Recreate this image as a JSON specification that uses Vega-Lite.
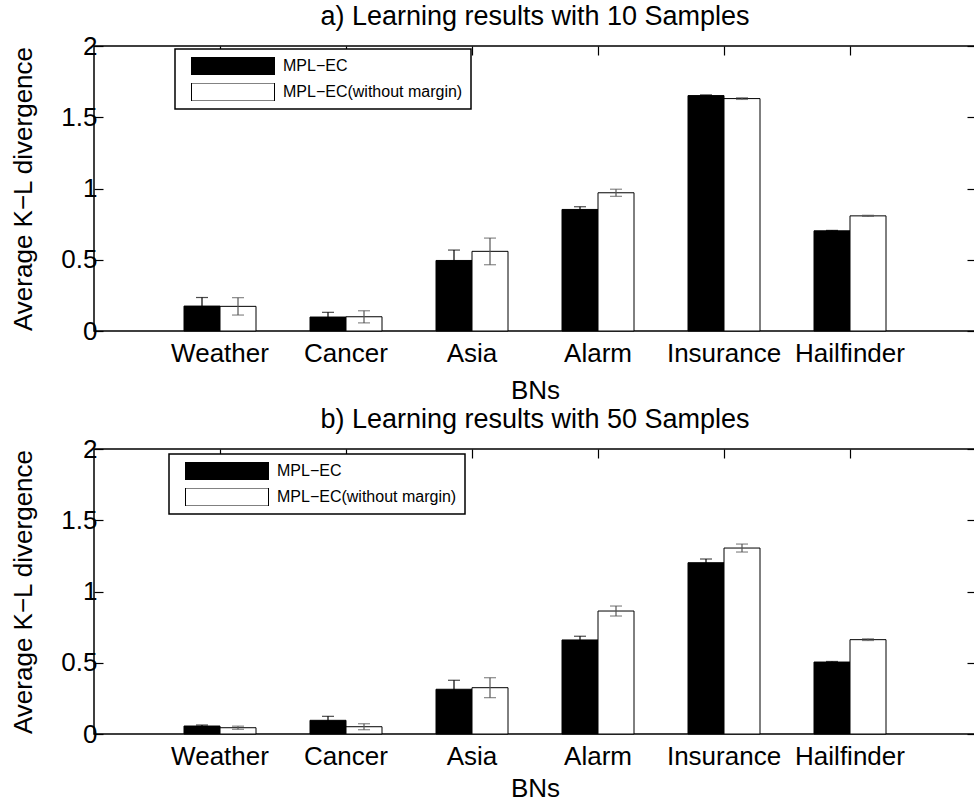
{
  "$schema": "https://vega.github.io/schema/vega-lite/v6.json",
  "padding": {"left": 10, "top": 2, "right": 0, "bottom": 0},
  "background": "white",
  "config": {
    "font": "Liberation Sans",
    "view": {"stroke": "black", "strokeWidth": 1.5},
    "axis": {"labelFont": "Liberation Sans", "titleFont": "Liberation Sans", "labelColor": "black", "titleColor": "black", "labelFontSize": 26, "titleFontSize": 26, "titleFontWeight": "normal", "grid": false, "domain": false, "tickColor": "black", "tickWidth": 1.2},
    "title": {"font": "Liberation Sans", "fontSize": 27, "fontWeight": "normal", "color": "black", "offset": 2},
    "legend": {"strokeWidth": 1.5}
  },
  "datasets": {
    "d": [
      {"panel": "a", "bn": "Weather", "method": "MPL−EC", "value": 0.175, "lo": 0.115, "hi": 0.235},
      {"panel": "a", "bn": "Weather", "method": "MPL−EC(without margin)", "value": 0.173, "lo": 0.112, "hi": 0.234},
      {"panel": "a", "bn": "Cancer", "method": "MPL−EC", "value": 0.098, "lo": 0.065, "hi": 0.131},
      {"panel": "a", "bn": "Cancer", "method": "MPL−EC(without margin)", "value": 0.1, "lo": 0.057, "hi": 0.142},
      {"panel": "a", "bn": "Asia", "method": "MPL−EC", "value": 0.495, "lo": 0.422, "hi": 0.568},
      {"panel": "a", "bn": "Asia", "method": "MPL−EC(without margin)", "value": 0.559, "lo": 0.465, "hi": 0.652},
      {"panel": "a", "bn": "Alarm", "method": "MPL−EC", "value": 0.853, "lo": 0.834, "hi": 0.872},
      {"panel": "a", "bn": "Alarm", "method": "MPL−EC(without margin)", "value": 0.97, "lo": 0.945, "hi": 0.995},
      {"panel": "a", "bn": "Insurance", "method": "MPL−EC", "value": 1.652, "lo": 1.647, "hi": 1.657},
      {"panel": "a", "bn": "Insurance", "method": "MPL−EC(without margin)", "value": 1.631, "lo": 1.625, "hi": 1.637},
      {"panel": "a", "bn": "Hailfinder", "method": "MPL−EC", "value": 0.703, "lo": 0.7, "hi": 0.706},
      {"panel": "a", "bn": "Hailfinder", "method": "MPL−EC(without margin)", "value": 0.808, "lo": 0.804, "hi": 0.812},
      {"panel": "b", "bn": "Weather", "method": "MPL−EC", "value": 0.056, "lo": 0.049, "hi": 0.063},
      {"panel": "b", "bn": "Weather", "method": "MPL−EC(without margin)", "value": 0.044, "lo": 0.033, "hi": 0.055},
      {"panel": "b", "bn": "Cancer", "method": "MPL−EC", "value": 0.096, "lo": 0.068, "hi": 0.124},
      {"panel": "b", "bn": "Cancer", "method": "MPL−EC(without margin)", "value": 0.051, "lo": 0.03, "hi": 0.072},
      {"panel": "b", "bn": "Asia", "method": "MPL−EC", "value": 0.314, "lo": 0.251, "hi": 0.377},
      {"panel": "b", "bn": "Asia", "method": "MPL−EC(without margin)", "value": 0.325, "lo": 0.255, "hi": 0.395},
      {"panel": "b", "bn": "Alarm", "method": "MPL−EC", "value": 0.66, "lo": 0.634, "hi": 0.686},
      {"panel": "b", "bn": "Alarm", "method": "MPL−EC(without margin)", "value": 0.863, "lo": 0.828, "hi": 0.898},
      {"panel": "b", "bn": "Insurance", "method": "MPL−EC", "value": 1.202, "lo": 1.176, "hi": 1.228},
      {"panel": "b", "bn": "Insurance", "method": "MPL−EC(without margin)", "value": 1.305, "lo": 1.277, "hi": 1.333},
      {"panel": "b", "bn": "Hailfinder", "method": "MPL−EC", "value": 0.505, "lo": 0.501, "hi": 0.509},
      {"panel": "b", "bn": "Hailfinder", "method": "MPL−EC(without margin)", "value": 0.662, "lo": 0.656, "hi": 0.668}
    ]
  },
  "spacing": 1,
  "resolve": {"scale": {"fill": "independent", "color": "independent"}, "legend": {"fill": "independent"}},
  "vconcat": [
    {
      "title": "a) Learning results with 10 Samples",
      "width": 882, "height": 285,
      "data": {"name": "d"},
      "transform": [{"filter": "datum.panel == 'a'"}],
      "resolve": {"axis": {"x": "independent", "y": "independent"}},
      "layer": [
        {
          "mark": {"type": "bar", "stroke": "black", "strokeWidth": 1},
          "encoding": {
            "x": {"field": "bn", "type": "nominal", "sort": ["Weather", "Cancer", "Asia", "Alarm", "Insurance", "Hailfinder"], "scale": {"paddingInner": 0, "paddingOuter": 0.5}, "axis": {"title": "BNs", "labelAngle": 0, "ticks": false, "labelPadding": 9, "titlePadding": 11}},
            "xOffset": {"field": "method", "type": "nominal", "sort": ["MPL−EC", "MPL−EC(without margin)"], "scale": {"paddingInner": 0, "paddingOuter": 0.75}},
            "y": {"field": "value", "type": "quantitative", "scale": {"domain": [0, 2], "nice": false}, "axis": {"title": "Average K−L divergence", "values": [0, 0.5, 1, 1.5, 2], "format": "~g", "tickSize": -9, "labelPadding": 6, "titlePadding": 24}},
            "fill": {"field": "method", "type": "nominal", "sort": ["MPL−EC", "MPL−EC(without margin)"], "scale": {"range": ["black", "white"]}, "legend": {"orient": "none", "legendX": 81, "legendY": 3, "title": null, "symbolType": "M-1,-0.217H1V0.217H-1Z", "symbolSize": 6889, "clipHeight": 18, "symbolStrokeColor": "black", "symbolStrokeWidth": 1, "symbolOffset": 8, "labelOffset": 8, "labelFontSize": 16, "labelLimit": 400, "labelColor": "black", "padding": 8, "rowPadding": 8, "strokeColor": "black", "fillColor": "white"}}
          }
        },
        {
          "mark": {"type": "rule", "strokeWidth": 1.2},
          "encoding": {
            "x": {"field": "bn", "type": "nominal", "sort": ["Weather", "Cancer", "Asia", "Alarm", "Insurance", "Hailfinder"], "axis": null},
            "xOffset": {"field": "method", "type": "nominal", "sort": ["MPL−EC", "MPL−EC(without margin)"]},
            "y": {"field": "lo", "type": "quantitative", "axis": null},
            "y2": {"field": "hi"},
            "color": {"field": "method", "type": "nominal", "sort": ["MPL−EC", "MPL−EC(without margin)"], "scale": {"range": ["black", "#555555"]}, "legend": null}
          }
        },
        {
          "mark": {"type": "tick", "size": 12, "thickness": 1.2},
          "encoding": {
            "x": {"field": "bn", "type": "nominal", "sort": ["Weather", "Cancer", "Asia", "Alarm", "Insurance", "Hailfinder"], "axis": null},
            "xOffset": {"field": "method", "type": "nominal", "sort": ["MPL−EC", "MPL−EC(without margin)"]},
            "y": {"field": "lo", "type": "quantitative", "axis": null},
            "color": {"field": "method", "type": "nominal", "sort": ["MPL−EC", "MPL−EC(without margin)"], "scale": {"range": ["black", "#555555"]}, "legend": null}
          }
        },
        {
          "mark": {"type": "tick", "size": 12, "thickness": 1.2},
          "encoding": {
            "x": {"field": "bn", "type": "nominal", "sort": ["Weather", "Cancer", "Asia", "Alarm", "Insurance", "Hailfinder"], "axis": {"orient": "top", "labels": false, "title": null, "tickSize": -9}},
            "xOffset": {"field": "method", "type": "nominal", "sort": ["MPL−EC", "MPL−EC(without margin)"]},
            "y": {"field": "hi", "type": "quantitative", "axis": {"orient": "right", "labels": false, "title": null, "values": [0, 0.5, 1, 1.5, 2], "tickSize": -9}},
            "color": {"field": "method", "type": "nominal", "sort": ["MPL−EC", "MPL−EC(without margin)"], "scale": {"range": ["black", "#555555"]}, "legend": null}
          }
        }
      ]
    },
    {
      "title": "b) Learning results with 50 Samples",
      "width": 882, "height": 285,
      "data": {"name": "d"},
      "transform": [{"filter": "datum.panel == 'b'"}],
      "resolve": {"axis": {"x": "independent", "y": "independent"}},
      "layer": [
        {
          "mark": {"type": "bar", "stroke": "black", "strokeWidth": 1},
          "encoding": {
            "x": {"field": "bn", "type": "nominal", "sort": ["Weather", "Cancer", "Asia", "Alarm", "Insurance", "Hailfinder"], "scale": {"paddingInner": 0, "paddingOuter": 0.5}, "axis": {"title": "BNs", "labelAngle": 0, "ticks": false, "labelPadding": 9, "titlePadding": 6}},
            "xOffset": {"field": "method", "type": "nominal", "sort": ["MPL−EC", "MPL−EC(without margin)"], "scale": {"paddingInner": 0, "paddingOuter": 0.75}},
            "y": {"field": "value", "type": "quantitative", "scale": {"domain": [0, 2], "nice": false}, "axis": {"title": "Average K−L divergence", "values": [0, 0.5, 1, 1.5, 2], "format": "~g", "tickSize": -9, "labelPadding": 6, "titlePadding": 24}},
            "fill": {"field": "method", "type": "nominal", "sort": ["MPL−EC", "MPL−EC(without margin)"], "scale": {"range": ["black", "white"]}, "legend": {"orient": "none", "legendX": 75, "legendY": 5, "title": null, "symbolType": "M-1,-0.217H1V0.217H-1Z", "symbolSize": 6889, "clipHeight": 18, "symbolStrokeColor": "black", "symbolStrokeWidth": 1, "symbolOffset": 8, "labelOffset": 8, "labelFontSize": 16, "labelLimit": 400, "labelColor": "black", "padding": 8, "rowPadding": 8, "strokeColor": "black", "fillColor": "white"}}
          }
        },
        {
          "mark": {"type": "rule", "strokeWidth": 1.2},
          "encoding": {
            "x": {"field": "bn", "type": "nominal", "sort": ["Weather", "Cancer", "Asia", "Alarm", "Insurance", "Hailfinder"], "axis": null},
            "xOffset": {"field": "method", "type": "nominal", "sort": ["MPL−EC", "MPL−EC(without margin)"]},
            "y": {"field": "lo", "type": "quantitative", "axis": null},
            "y2": {"field": "hi"},
            "color": {"field": "method", "type": "nominal", "sort": ["MPL−EC", "MPL−EC(without margin)"], "scale": {"range": ["black", "#555555"]}, "legend": null}
          }
        },
        {
          "mark": {"type": "tick", "size": 12, "thickness": 1.2},
          "encoding": {
            "x": {"field": "bn", "type": "nominal", "sort": ["Weather", "Cancer", "Asia", "Alarm", "Insurance", "Hailfinder"], "axis": null},
            "xOffset": {"field": "method", "type": "nominal", "sort": ["MPL−EC", "MPL−EC(without margin)"]},
            "y": {"field": "lo", "type": "quantitative", "axis": null},
            "color": {"field": "method", "type": "nominal", "sort": ["MPL−EC", "MPL−EC(without margin)"], "scale": {"range": ["black", "#555555"]}, "legend": null}
          }
        },
        {
          "mark": {"type": "tick", "size": 12, "thickness": 1.2},
          "encoding": {
            "x": {"field": "bn", "type": "nominal", "sort": ["Weather", "Cancer", "Asia", "Alarm", "Insurance", "Hailfinder"], "axis": {"orient": "top", "labels": false, "title": null, "tickSize": -9}},
            "xOffset": {"field": "method", "type": "nominal", "sort": ["MPL−EC", "MPL−EC(without margin)"]},
            "y": {"field": "hi", "type": "quantitative", "axis": {"orient": "right", "labels": false, "title": null, "values": [0, 0.5, 1, 1.5, 2], "tickSize": -9}},
            "color": {"field": "method", "type": "nominal", "sort": ["MPL−EC", "MPL−EC(without margin)"], "scale": {"range": ["black", "#555555"]}, "legend": null}
          }
        }
      ]
    }
  ]
}
